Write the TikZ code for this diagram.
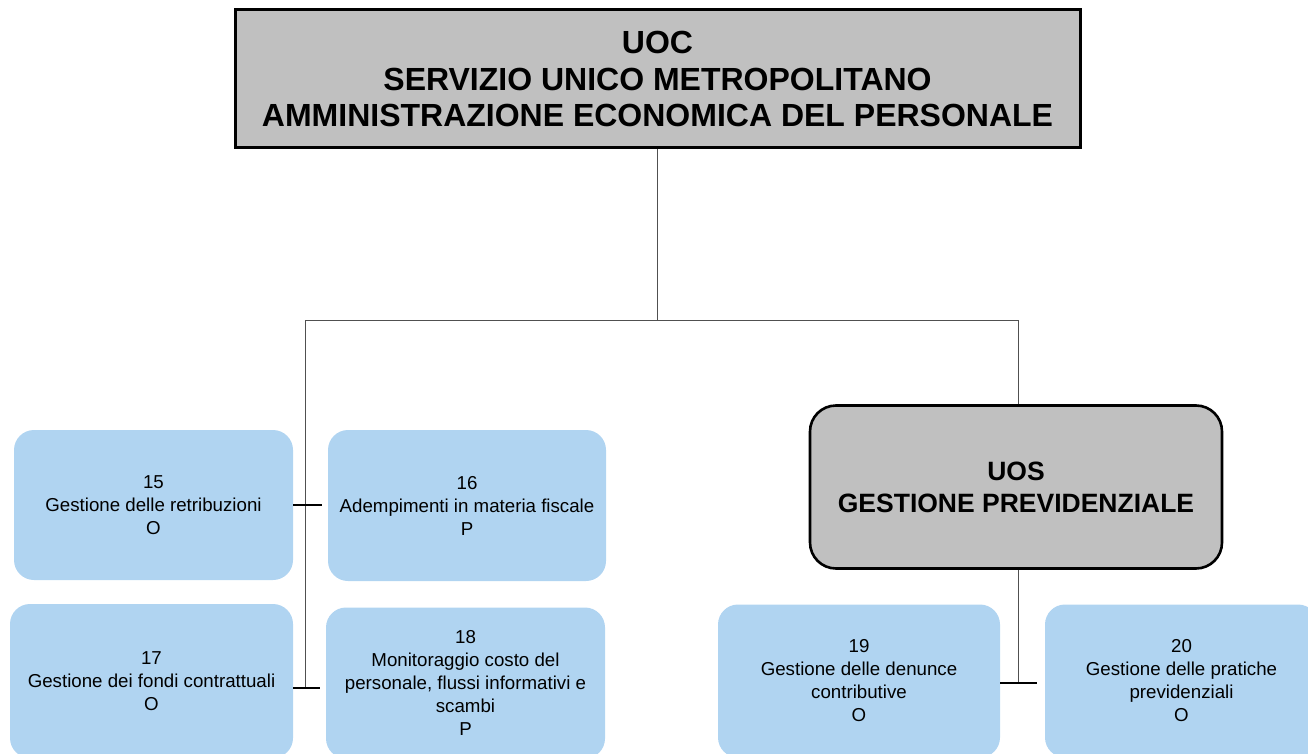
\documentclass[tikz,border=0pt]{standalone}
\usepackage{fontspec}
\setmainfont{Liberation Sans}
\definecolor{boxblue}{HTML}{B0D4F1}
\definecolor{boxgray}{HTML}{C0C0C0}
\definecolor{linegray}{HTML}{505050}
\begin{document}
\begin{tikzpicture}[x=1pt,y=-1pt,
  unit/.style={fill=boxblue,rounded corners=20pt,align=center,inner sep=0pt,
    font=\fontsize{18.7}{23}\selectfont},
  headbox/.style={fill=boxgray,draw=black,align=center,inner sep=0pt,font=\bfseries},
  bus/.style={draw=linegray,line width=1pt},
  tick/.style={draw=black,line width=2.8pt,shorten >=6pt}]
\useasboundingbox (0,0) rectangle (1308,754);
% top
\node[headbox,line width=3pt,minimum width=845pt,minimum height=138pt,
  font=\bfseries\fontsize{32}{36.5}\selectfont] (top) at (657.5,79)
  {UOC\\SERVIZIO UNICO METROPOLITANO\\AMMINISTRAZIONE ECONOMICA DEL PERSONALE};
% UOS
\node[headbox,line width=2.6pt,rounded corners=26pt,minimum width=412pt,minimum height=163pt,
  font=\bfseries\fontsize{26.5}{32}\selectfont] (uos) at (1016,487)
  {UOS\\GESTIONE PREVIDENZIALE};
% units
\node[unit,minimum width=279pt,minimum height=150pt] (b15) at (153.5,505) {15\\Gestione delle retribuzioni\\O};
\node[unit,minimum width=278pt,minimum height=151pt] (b16) at (467,505.5) {16\\Adempimenti in materia fiscale\\P};
\node[unit,minimum width=283pt,minimum height=154pt] (b17) at (151.5,681) {17\\Gestione dei fondi contrattuali\\O};
\node[unit,minimum width=279pt,minimum height=151pt] (b18) at (465.5,683) {18\\Monitoraggio costo del\\personale, flussi informativi e\\scambi\\P};
\node[unit,minimum width=282pt,minimum height=153pt] (b19) at (859,681) {19\\Gestione delle denunce\\contributive\\O};
\node[unit,minimum width=273pt,minimum height=153pt] (b20) at (1181.5,681) {20\\Gestione delle pratiche\\previdenziali\\O};
% bus
\coordinate (busL) at (305,320);
\coordinate (busR) at (1018,320);
\coordinate (busM) at (top.south |- busL);
\coordinate (leftEnd) at (305,688);
\coordinate (rightEnd) at (1018,683);
\draw[bus] (top.south) -- (busM);
\draw[bus] (busL) -- (busR) -- (uos.north -| busR);
\draw[bus] (busL) -- (leftEnd);
\draw[bus] (uos.south -| busR) -- (rightEnd);
% ticks
\draw[tick] (b15.east) -- (b16.west |- b15.east);
\draw[tick] (b17.east |- leftEnd) -- (b18.west |- leftEnd);
\draw[tick,shorten >=8pt] (b19.east |- rightEnd) -- (b20.west |- rightEnd);
\end{tikzpicture}
\end{document}
